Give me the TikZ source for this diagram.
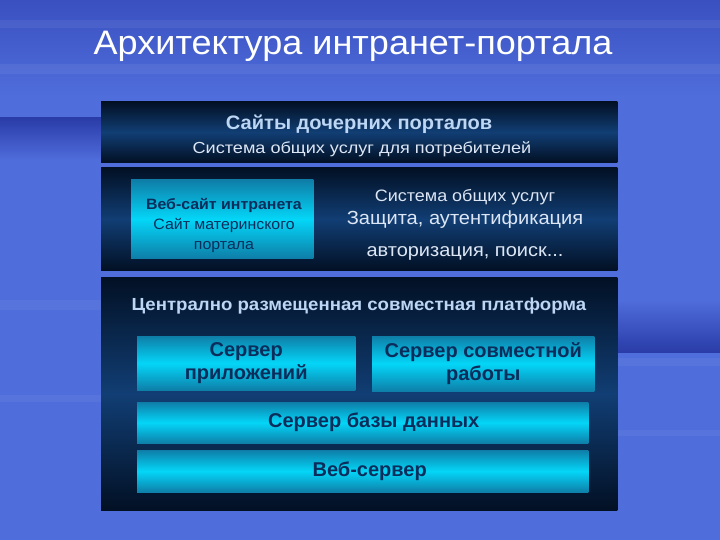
\documentclass[tikz,border=0pt]{standalone}
\usepackage{fontspec}
\usepackage{graphicx}
\setmainfont{Liberation Sans}
\usetikzlibrary{backgrounds}
\newcommand{\widen}[2]{\scalebox{#1}[1]{#2}}
\begin{document}
\begin{tikzpicture}[x=1pt, y=-1pt]
\definecolor{bgtop}{HTML}{3A50C0}
\definecolor{bgmain}{HTML}{4F6DDB}
\definecolor{bgdark}{HTML}{2A3CA8}
\definecolor{navyedge}{HTML}{021024}
\definecolor{navymid}{HTML}{113E74}
\definecolor{cyanedge}{HTML}{0E7EA8}
\definecolor{cyanmid}{HTML}{04D6F8}
\definecolor{paletext}{HTML}{BCD6F4}
\definecolor{softtext}{HTML}{DCE6F4}
\definecolor{inktext}{HTML}{0B2D5C}
\tikzset{
  holder/.style={anchor=north west, inner sep=0pt},
  darkshade/.style={top color=navyedge, bottom color=navyedge, middle color=navymid},
  cyanshade/.style={top color=cyanedge, bottom color=cyanedge, middle color=cyanmid},
  cyanbox/.style={holder, align=center, text=inktext, font=\bfseries\fontsize{20}{23}\selectfont},
  label/.style={inner sep=0pt, align=center}
}
\useasboundingbox (0,0) rectangle (720,540);
\node[label, text=white, font=\fontsize{34}{38}\selectfont] (title) at (353,46) {\widen{1.06}{Архитектура интранет-портала}};
% top layer
\node[holder, minimum width=516pt, minimum height=60pt] (sites) at (101,102) {};
\node[label, text=paletext, font=\bfseries\fontsize{19.5}{22}\selectfont] (sitestitle) at (359,124) {\widen{1.03}{Сайты дочерних порталов}};
\node[label, text=softtext, font=\fontsize{16}{18}\selectfont] (sitesnote) at (362,149) {\widen{1.13}{Система общих услуг для потребителей}};
% middle layer
\node[holder, minimum width=516pt, minimum height=102pt] (services) at (101,168) {};
\node[holder, minimum width=182pt, minimum height=78pt] (intranet) at (131,180) {};
\node[label, text=inktext, font=\fontsize{15}{20}\selectfont] (intranettext) at (224,225) {\widen{1.06}{\textbf{Веб-сайт интранета}}\\\widen{1.06}{Сайт материнского}\\\widen{1.06}{портала}};
\node[label, text=softtext, font=\fontsize{16.5}{19}\selectfont] (sharedtitle) at (465,197) {\widen{1.09}{Система общих услуг}};
\node[label, text=softtext, font=\fontsize{19}{21}\selectfont] (sharedsec) at (465,220) {\widen{1.056}{Защита, аутентификация}};
\node[label, text=softtext, font=\fontsize{18.5}{21}\selectfont] (sharedauth) at (465,253) {\widen{1.08}{авторизация, поиск...}};
% platform layer
\node[holder, minimum width=516pt, minimum height=233pt] (platform) at (101,277) {};
\node[label, text=paletext, font=\bfseries\fontsize{17.5}{20}\selectfont] (platformtitle) at (359,306) {\widen{1.064}{Централно размещенная совместная платформа}};
\node[cyanbox, minimum width=218pt, minimum height=54pt] (appserver) at (137,336) {Сервер\\приложений};
\node[cyanbox, minimum width=222pt, minimum height=55pt] (collabserver) at (372,336) {Сервер совместной\\работы};
\node[cyanbox, minimum width=451pt, minimum height=41pt] (dbserver) at (137,402) {\hspace*{22pt}Сервер базы данных};
\node[cyanbox, minimum width=451pt, minimum height=42pt] (webserver) at (137,450) {\hspace*{14pt}Веб-сервер};
% backdrop and shaded boxes
\begin{scope}[on background layer]
\fill[bgmain] (0,0) rectangle (720,540);
\shade[top color=bgtop, bottom color=bgmain] (0,0) rectangle (720,95);
\fill[white, opacity=0.06] (0,20) rectangle (720,28);
\fill[white, opacity=0.06] (0,64) rectangle (720,74);
\shade[top color=bgdark, bottom color=bgmain] (0,118) rectangle (101,160);
\shade[top color=bgmain, bottom color=bgdark] (617,300) rectangle (720,352);
\fill[white, opacity=0.05] (617,358) rectangle (720,366);
\fill[white, opacity=0.05] (617,430) rectangle (720,436);
\fill[white, opacity=0.05] (0,300) rectangle (101,310);
\fill[white, opacity=0.05] (0,395) rectangle (101,402);
\foreach \layer in {sites, services, platform}
  \shade[darkshade] (\layer.north west) rectangle (\layer.south east);
\foreach \layer in {intranet, appserver, collabserver, dbserver, webserver}
  \shade[cyanshade] (\layer.north west) rectangle (\layer.south east);
\end{scope}
\end{tikzpicture}
\end{document}
